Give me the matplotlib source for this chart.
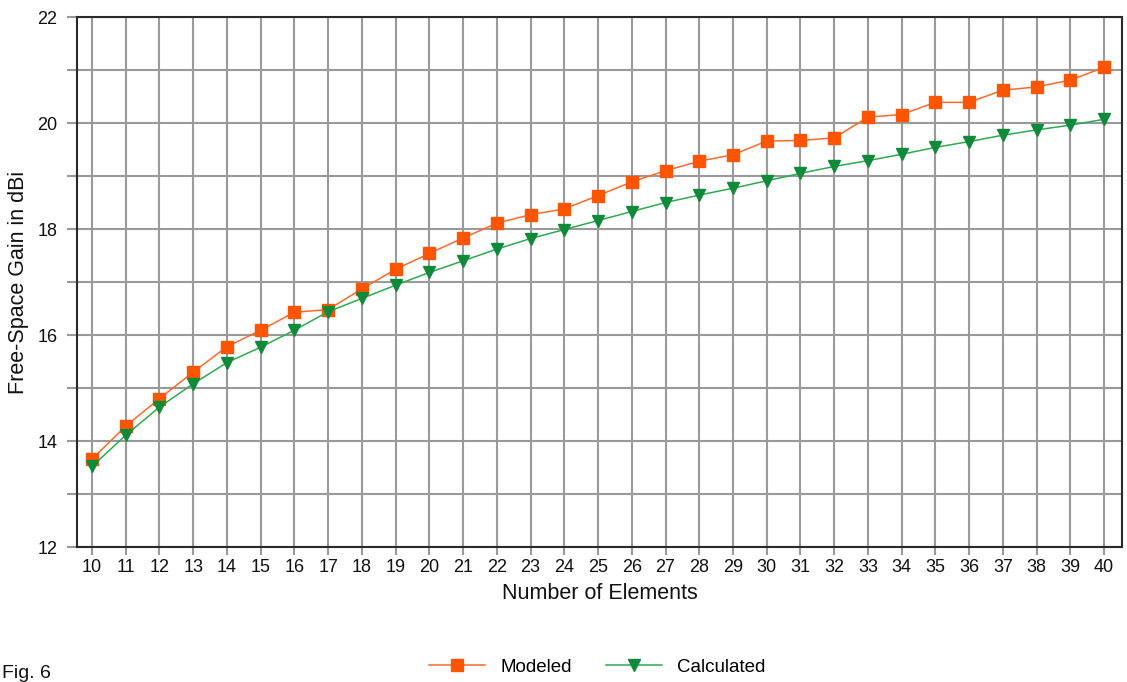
import matplotlib.pyplot as plt
from matplotlib.ticker import MultipleLocator

plt.rcParams['font.family'] = ['Liberation Sans', 'DejaVu Sans']

elements = list(range(10, 41))
modeled = [13.66, 14.28, 14.80, 15.30, 15.78, 16.09, 16.43, 16.48, 16.87, 17.24,
           17.54, 17.83, 18.11, 18.27, 18.38, 18.63, 18.89, 19.10, 19.28, 19.40,
           19.66, 19.67, 19.72, 20.11, 20.16, 20.39, 20.39, 20.62, 20.68, 20.81,
           21.05]
calculated = [13.52, 14.11, 14.64, 15.08, 15.48, 15.77, 16.09, 16.44, 16.69, 16.94,
              17.18, 17.40, 17.62, 17.82, 17.99, 18.16, 18.33, 18.50, 18.64, 18.77,
              18.91, 19.05, 19.18, 19.29, 19.41, 19.54, 19.65, 19.77, 19.87, 19.96,
              20.07]

W, H = 1127, 682
fig = plt.figure(figsize=(W / 100, H / 100), dpi=100)
ax = fig.add_axes([77 / W, 1 - 547 / H, (1122 - 77) / W, (547 - 17) / H])

ax.plot(elements, modeled, color='#ff6a2a', lw=1.1, marker='s', ms=8,
        mfc='#ff5500', mec='#ff5500', label='Modeled', zorder=3)
ax.plot(elements, calculated, color='#2eaa50', lw=1.1, marker='v', ms=8,
        mfc='#0f8a3a', mec='#0f8a3a', label='Calculated', zorder=3)

ax.set_xlim(9.555, 40.53)
ax.set_ylim(12, 22)
ax.set_xticks(elements)
ax.yaxis.set_major_locator(MultipleLocator(2))
ax.yaxis.set_minor_locator(MultipleLocator(1))

ax.grid(True, which='both', color='#9a9a9a', lw=1.5)
ax.set_axisbelow(True)
for s in ax.spines.values():
    s.set_color('#2a2a2a')
    s.set_linewidth(1.5)

ax.tick_params(axis='x', length=6, width=1.5, color='#9a9a9a', pad=3,
               labelsize=13, labelcolor='#111111')
ax.tick_params(axis='y', which='both', length=7, width=1.5, color='#9a9a9a',
               pad=7, labelsize=13, labelcolor='#111111')

ax.set_xlabel('Number of Elements', fontsize=15.5, color='#111111', labelpad=5)
ax.set_ylabel('Free-Space Gain in dBi', fontsize=15.5, color='#111111', labelpad=6)

fig.legend(loc='center', bbox_to_anchor=(0.530, 0.022), ncol=2, frameon=False,
           fontsize=13.5, handlelength=3.0, handletextpad=0.8, columnspacing=1.8)

# figure caption, kept inside the canvas
fig.text(2 / W, 4 / H, 'Fig. 6', ha='left', va='baseline', fontsize=14,
         color='#111111')

fig.savefig('out.png', dpi=100)
